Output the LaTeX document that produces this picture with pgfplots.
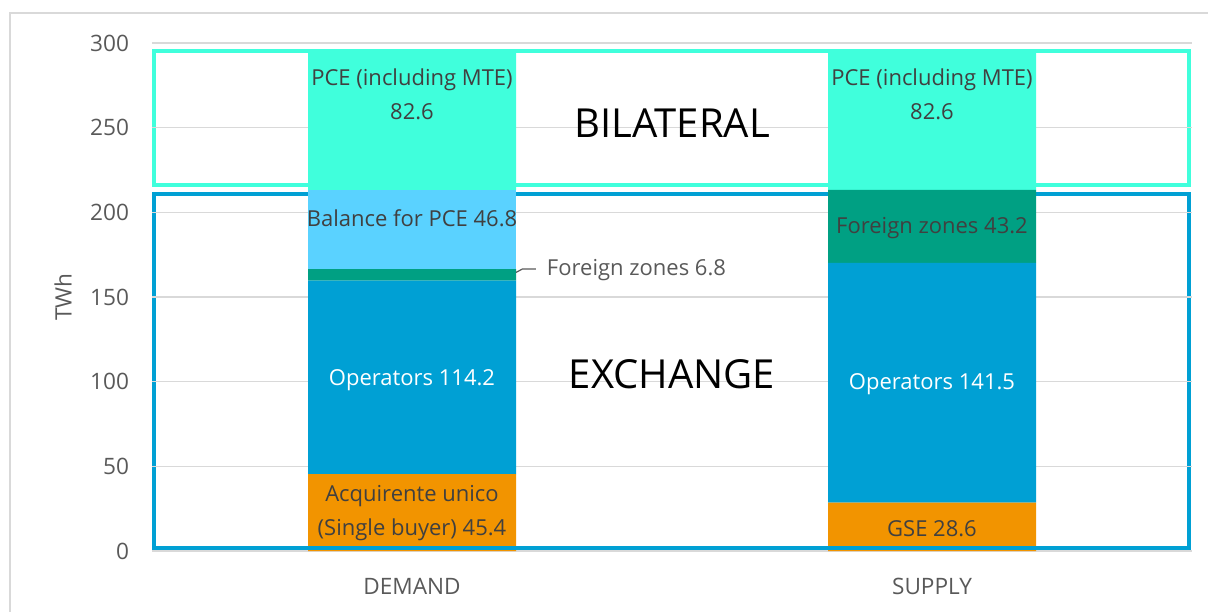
\documentclass[border=0pt]{standalone}
\usepackage{pgfplots}
\pgfplotsset{compat=1.18}
\usetikzlibrary{backgrounds}
\usepackage{fontspec}
\setmainfont{Open Sans}
\definecolor{cOrange}{HTML}{F29400}
\definecolor{cBlue}{HTML}{00A0D4}
\definecolor{cGreen}{HTML}{00A083}
\definecolor{cLight}{HTML}{5AD2FF}
\definecolor{cAqua}{HTML}{40FFDC}
\definecolor{cTick}{HTML}{595959}
\definecolor{cLab}{HTML}{404040}
\definecolor{cGrid}{HTML}{D9D9D9}
\tikzset{blab/.style={font=\fontsize{11}{17}\selectfont, text=cLab, align=center}}
\begin{document}
\begin{tikzpicture}
\begin{axis}[
  at={(76pt,30pt)}, anchor=south west,
  scale only axis, width=520pt, height=254pt,
  ybar stacked, bar width=104pt,
  xmin=-0.5, xmax=1.5, ymin=0, ymax=300,
  xtick={0,1}, xticklabels={DEMAND,SUPPLY},
  ytick={0,50,100,150,200,250,300},
  ymajorgrids, grid style={cGrid, line width=0.8pt},
  axis line style={draw=none}, tick style={draw=none},
  ticklabel style={font=\fontsize{11.3}{13}\selectfont, text=cTick},
  /pgf/number format/assume math mode=true,
  yticklabel style={xshift=-8pt},
  xticklabel style={yshift=-10pt},
  clip=false,
]
\addplot[fill=cOrange, draw=none] coordinates {(0,45.4) (1,28.6)};
\addplot[fill=cBlue, draw=none] coordinates {(0,114.2) (1,141.5)};
\addplot[fill=cGreen, draw=none] coordinates {(0,6.8) (1,43.2)};
\addplot[fill=cLight, draw=none] coordinates {(0,46.8) (1,0)};
\addplot[fill=cAqua, draw=none] coordinates {(0,82.6) (1,82.6)};
\coordinate (B1) at (axis cs:-0.496,216);
\coordinate (B2) at (axis cs:1.495,295);
\coordinate (E1) at (axis cs:-0.496,1.5);
\coordinate (E2) at (axis cs:1.495,211);
\coordinate (E3) at (axis cs:1.495,1.5);
\coordinate (L1) at (axis cs:0,269.5);
\coordinate (L2) at (axis cs:1,269.5);
\coordinate (L3) at (axis cs:0,196.7);
\coordinate (L4) at (axis cs:1,190.7);
\coordinate (L5) at (axis cs:0,101);
\coordinate (L6) at (axis cs:1,98.6);
\coordinate (L7) at (axis cs:0,22.4);
\coordinate (L8) at (axis cs:1,13);
\coordinate (L9) at (axis cs:0.246,166);
\coordinate (K1) at (axis cs:0.2,164.5);
\coordinate (K2) at (axis cs:0.212,166.5);
\coordinate (K3) at (axis cs:0.238,166.5);
\coordinate (T1) at (axis cs:0.5,252.8);
\coordinate (T2) at (axis cs:0.5,104.5);
\node[rotate=90, font=\fontsize{11.3}{13}\selectfont, text=cTick] at (rel axis cs:-0.0856,0.5) {TWh};
\end{axis}
\node[blab] at (L1) {PCE (including MTE)\\82.6};
\node[blab] at (L2) {PCE (including MTE)\\82.6};
\node[blab] at (L3) {Balance for PCE 46.8};
\node[blab] at (L4) {Foreign zones 43.2};
\node[blab, text=white] at (L5) {Operators 114.2};
\node[blab, text=white] at (L6) {Operators 141.5};
\node[blab] at (L7) {Acquirente unico\\(Single buyer) 45.4};
\node[blab] at (L8) {GSE 28.6};
\node[blab, anchor=west, text=cTick] at (L9) {Foreign zones 6.8};
\draw[cTick, line width=0.6pt] (K1) -- (K2) -- (K3);
\node[font=\fontsize{20}{24}\selectfont, text=black] at (T1) {BILATERAL};
\node[font=\fontsize{20}{24}\selectfont, text=black] at (T2) {EXCHANGE};
\begin{scope}[on background layer]
\draw[cAqua, line width=2pt] (B1) rectangle (B2);
\draw[cBlue, line width=2pt] (E1) rectangle (E2);
\end{scope}
\draw[cBlue, line width=2pt] (E1) -- (E3);
\draw[cGrid, line width=1pt] (5pt,-20pt) rectangle (640pt,299pt);
\pgfresetboundingbox
\path (0,0) rectangle (604pt,305.5pt);
\end{tikzpicture}
\end{document}
